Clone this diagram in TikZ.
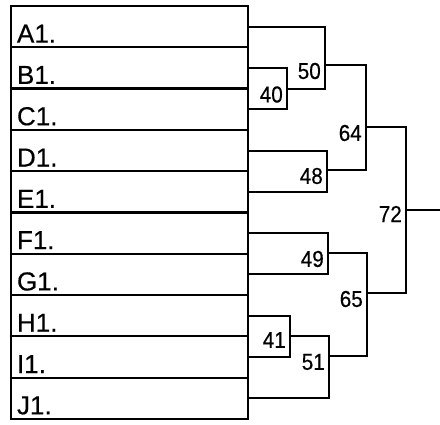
\documentclass[tikz,border=0pt]{standalone}
\usepackage{fontspec}
\setmainfont[FakeBold=0.4]{Liberation Sans}
\newfontfamily\numfont[FakeStretch=0.9, FakeBold=0.4]{Liberation Sans}
\usetikzlibrary{positioning, calc}

\tikzset{
  rowbox/.style={draw, line width=2.2pt, minimum width=237pt, minimum height=41.3pt,
    text width=225pt, align=left, inner xsep=6pt, inner ysep=0pt,
    text height=32pt, text depth=0pt, font=\fontsize{26}{26}\selectfont},
  bracket/.style={line width=2pt},
  mergelbl/.style={anchor=east, inner sep=0pt, xshift=-4pt, yshift=-6pt,
    font=\numfont\fontsize{23}{23}\selectfont}
}

\begin{document}
\begin{tikzpicture}[x=1pt, y=-1pt]
  \useasboundingbox (0,0) rectangle (440,424);

  % Entries
  \node[rowbox] (a) at (129.5, 26.6) {A1.};
  \node[rowbox] (b) at (129.5, 67.9) {B1.};
  \node[rowbox] (c) at (129.5, 109.2) {C1.};
  \node[rowbox] (d) at (129.5, 150.5) {D1.};
  \node[rowbox] (e) at (129.5, 191.8) {E1.};
  \node[rowbox] (f) at (129.5, 233.1) {F1.};
  \node[rowbox] (g) at (129.5, 274.4) {G1.};
  \node[rowbox] (h) at (129.5, 315.7) {H1.};
  \node[rowbox] (i) at (129.5, 357.0) {I1.};
  \node[rowbox] (j) at (129.5, 398.3) {J1.};

  % Merge points
  \coordinate (m40) at (287, 88.5);
  \coordinate (m50) at (325, 65);
  \coordinate (m48) at (327, 170);
  \coordinate (m64) at (366, 127);
  \coordinate (m49) at (328, 253);
  \coordinate (m41) at (290, 336);
  \coordinate (m51) at (329, 356);
  \coordinate (m65) at (367, 293);
  \coordinate (m72) at (406, 210);
  \coordinate (out) at (440, 210);

  % Upper half
  \draw[bracket] (b.east) -| (m40) |- (c.east);
  \draw[bracket] (a.east) -| (m50) |- (m40);
  \draw[bracket] (d.east) -| (m48) |- (e.east);
  \draw[bracket] (m50) -| (m64) |- (m48);

  % Lower half
  \draw[bracket] (f.east) -| (m49) |- (g.east);
  \draw[bracket] (h.east) -| (m41) |- (i.east);
  \draw[bracket] (m41) -| (m51) |- (j.east);
  \draw[bracket] (m49) -| (m65) |- (m51);

  % Final
  \draw[bracket] (m64) -| (m72) |- (m65);
  \draw[bracket] (m72) -- (out);

  % Labels
  \node[mergelbl] (l40) at (m40) {40};
  \node[mergelbl] (l50) at (m50) {50};
  \node[mergelbl] (l48) at (m48) {48};
  \node[mergelbl] (l64) at (m64) {64};
  \node[mergelbl] (l49) at (m49) {49};
  \node[mergelbl, yshift=2pt] (l41) at (m41) {41};
  \node[mergelbl] (l51) at (m51) {51};
  \node[mergelbl] (l65) at (m65) {65};
  \node[mergelbl, yshift=2pt] (l72) at (m72) {72};
\end{tikzpicture}
\end{document}
